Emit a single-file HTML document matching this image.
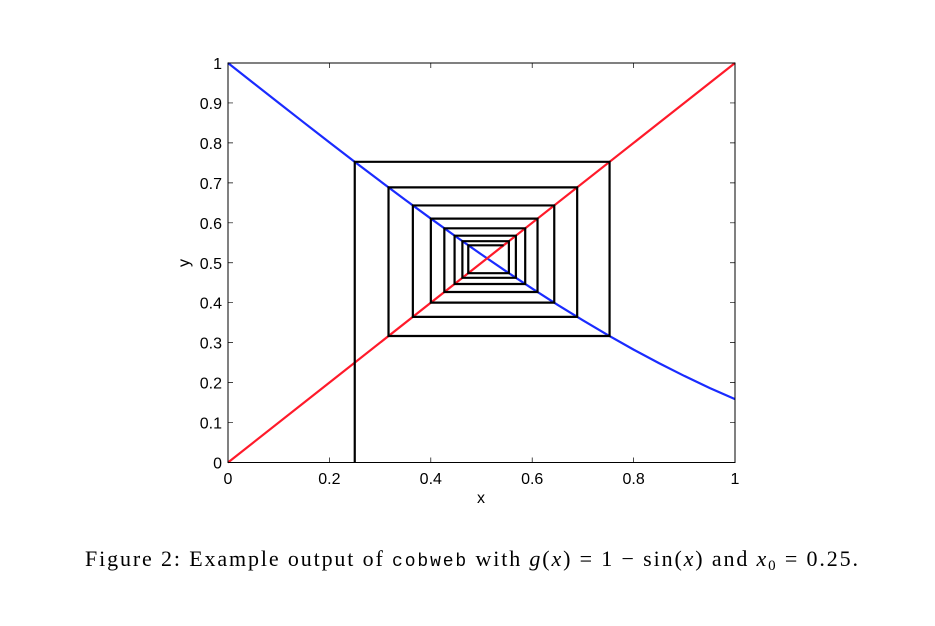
<!DOCTYPE html>
<html><head><meta charset="utf-8"><style>
body{margin:0;background:#fff;width:935px;height:621px;overflow:hidden}
svg text{font-family:"Liberation Sans",sans-serif;font-size:16px;fill:#000}
</style></head><body>
<svg width="935" height="621">
<g id="ticks"></g>
<g id="marks"></g>
<rect x="228" y="63" width="507" height="399.5" fill="none" stroke="#000" stroke-width="1"/>
<text x="481" y="503" text-anchor="middle">x</text>
<text x="0" y="0" text-anchor="middle" transform="translate(189,263) rotate(-90)">y</text>
<text x="85" y="566" textLength="773" lengthAdjust="spacing" style="font-family:'Liberation Serif',serif;font-size:22px">Figure 2: Example output of <tspan style="font-family:'Liberation Mono',monospace;font-size:18px">cobweb</tspan> with <tspan font-style="italic">g</tspan>(<tspan font-style="italic">x</tspan>) = 1 − sin(<tspan font-style="italic">x</tspan>) and <tspan font-style="italic">x</tspan><tspan font-size="15" dy="4">0</tspan><tspan dy="-4"> = 0.25.</tspan></text>
</svg>
<script>
const xTicks=[0,0.2,0.4,0.6,0.8,1];
const xTickLabels=["0","0.2","0.4","0.6","0.8","1"];
const yTicks=[0,0.1,0.2,0.3,0.4,0.5,0.6,0.7,0.8,0.9,1];
const yTickLabels=["0","0.1","0.2","0.3","0.4","0.5","0.6","0.7","0.8","0.9","1"];
const curveX=[0,0.05,0.1,0.15,0.2,0.25,0.3,0.35,0.4,0.45,0.5,0.55,0.6,0.65,0.7,0.75,0.8,0.85,0.9,0.95,1];
const curveY=[1,0.9500,0.9002,0.8506,0.8013,0.7526,0.7045,0.6571,0.6106,0.5650,0.5206,0.4773,0.4354,0.3948,0.3558,0.3184,0.2826,0.2487,0.2167,0.1866,0.1585];
const identityX=[0,1];
const identityY=[0,1];
const iterates=[0.25,0.7526,0.3166,0.6887,0.3646,0.6435,0.4001,0.6105,0.4267,0.5862,0.4469,0.5678,0.4623,0.5540,0.4739,0.5436];
const X=v=>228+v*507, Y=v=>462.5-v*399.5;
const NS="http://www.w3.org/2000/svg";
const tk=document.getElementById('ticks'), mk=document.getElementById('marks');
function mkEl(t,a,p){const e=document.createElementNS(NS,t);for(const k in a)e.setAttribute(k,a[k]);p.appendChild(e);return e;}
xTicks.forEach((v,i)=>{
  let l=mkEl('path',{d:`M${X(v)},462.5v-5M${X(v)},63v5`,stroke:'#000','stroke-width':0.7},tk);
  
  
  let t=mkEl('text',{x:X(v),y:484,'text-anchor':'middle'},tk);t.textContent=xTickLabels[i];
  
  
});
yTicks.forEach((v,i)=>{
  let l=mkEl('path',{d:`M228,${Y(v)}h5M735,${Y(v)}h-5`,stroke:'#000','stroke-width':0.7},tk);
  
  
  let t=mkEl('text',{x:222,y:Y(v)+6,'text-anchor':'end'},tk);t.textContent=yTickLabels[i];
  
  
});
const pts=(xs,ys)=>xs.map((x,i)=>X(x)+','+Y(ys[i])).join(' ');
let c=mkEl('polyline',{points:pts(curveX,curveY),fill:'none',stroke:'#1a2bff','stroke-width':2.2},mk);


let d=mkEl('polyline',{points:pts(identityX,identityY),fill:'none',stroke:'#ff1a2a','stroke-width':2.2},mk);


let cp=[[iterates[0],0]];
for(let i=0;i<iterates.length-1;i++){cp.push([iterates[i],iterates[i+1]]);cp.push([iterates[i+1],iterates[i+1]]);}
let w=mkEl('polyline',{points:cp.map(p=>X(p[0])+','+Y(p[1])).join(' '),fill:'none',stroke:'#000','stroke-width':2.2},mk);


</script>
</body></html>
